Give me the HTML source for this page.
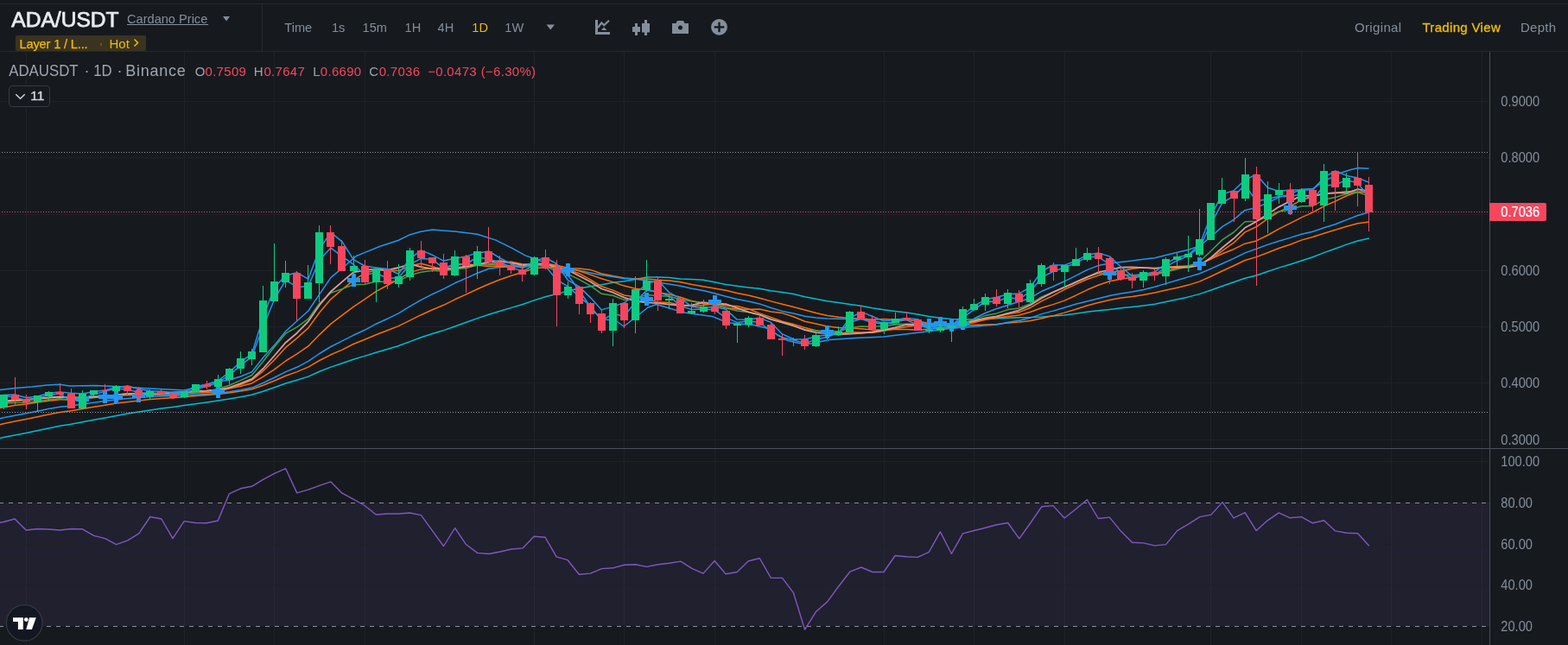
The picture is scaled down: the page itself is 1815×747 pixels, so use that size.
<!DOCTYPE html>
<html><head><meta charset="utf-8"><title>ADA/USDT</title>
<style>
html,body{margin:0;padding:0;background:#161a1e;}
body{width:1815px;height:747px;overflow:hidden;position:relative;}
svg{position:absolute;left:0;top:0;display:block;}
#ch rect,#ch line{shape-rendering:crispEdges}
</style></head>
<body>
<svg id="ch" width="1815" height="747" viewBox="0 0 1815 747">
<line x1="30.5" y1="60" x2="30.5" y2="519" stroke="#1e2227"/>
<line x1="30.5" y1="520" x2="30.5" y2="747" stroke="#1e2227"/>
<line x1="213.5" y1="60" x2="213.5" y2="519" stroke="#1e2227"/>
<line x1="213.5" y1="520" x2="213.5" y2="747" stroke="#1e2227"/>
<line x1="317.5" y1="60" x2="317.5" y2="519" stroke="#1e2227"/>
<line x1="317.5" y1="520" x2="317.5" y2="747" stroke="#1e2227"/>
<line x1="422.5" y1="60" x2="422.5" y2="519" stroke="#1e2227"/>
<line x1="422.5" y1="520" x2="422.5" y2="747" stroke="#1e2227"/>
<line x1="618.5" y1="60" x2="618.5" y2="519" stroke="#1e2227"/>
<line x1="618.5" y1="520" x2="618.5" y2="747" stroke="#1e2227"/>
<line x1="722.5" y1="60" x2="722.5" y2="519" stroke="#1e2227"/>
<line x1="722.5" y1="520" x2="722.5" y2="747" stroke="#1e2227"/>
<line x1="827.5" y1="60" x2="827.5" y2="519" stroke="#1e2227"/>
<line x1="827.5" y1="520" x2="827.5" y2="747" stroke="#1e2227"/>
<line x1="1023.5" y1="60" x2="1023.5" y2="519" stroke="#1e2227"/>
<line x1="1023.5" y1="520" x2="1023.5" y2="747" stroke="#1e2227"/>
<line x1="1127.5" y1="60" x2="1127.5" y2="519" stroke="#1e2227"/>
<line x1="1127.5" y1="520" x2="1127.5" y2="747" stroke="#1e2227"/>
<line x1="1232.5" y1="60" x2="1232.5" y2="519" stroke="#1e2227"/>
<line x1="1232.5" y1="520" x2="1232.5" y2="747" stroke="#1e2227"/>
<line x1="1401.5" y1="60" x2="1401.5" y2="519" stroke="#1e2227"/>
<line x1="1401.5" y1="520" x2="1401.5" y2="747" stroke="#1e2227"/>
<line x1="1506.5" y1="60" x2="1506.5" y2="519" stroke="#1e2227"/>
<line x1="1506.5" y1="520" x2="1506.5" y2="747" stroke="#1e2227"/>
<line x1="1610.5" y1="60" x2="1610.5" y2="519" stroke="#1e2227"/>
<line x1="1610.5" y1="520" x2="1610.5" y2="747" stroke="#1e2227"/>
<line x1="1715.5" y1="60" x2="1715.5" y2="519" stroke="#1e2227"/>
<line x1="1715.5" y1="520" x2="1715.5" y2="747" stroke="#1e2227"/>
<line x1="0" y1="117.5" x2="1724" y2="117.5" stroke="#1e2227"/>
<line x1="0" y1="182.5" x2="1724" y2="182.5" stroke="#1e2227"/>
<line x1="0" y1="248.5" x2="1724" y2="248.5" stroke="#1e2227"/>
<line x1="0" y1="313.5" x2="1724" y2="313.5" stroke="#1e2227"/>
<line x1="0" y1="378.5" x2="1724" y2="378.5" stroke="#1e2227"/>
<line x1="0" y1="443.5" x2="1724" y2="443.5" stroke="#1e2227"/>
<line x1="0" y1="509.5" x2="1724" y2="509.5" stroke="#1e2227"/>
<rect x="0" y="582" width="1724" height="143" fill="#7e57c2" fill-opacity="0.1"/>
<line x1="0" y1="534.5" x2="1724" y2="534.5" stroke="#1e2227"/>
<line x1="0" y1="630.5" x2="1724" y2="630.5" stroke="#1e2227"/>
<line x1="0" y1="677.5" x2="1724" y2="677.5" stroke="#1e2227"/>
<line x1="0" y1="582.5" x2="1724" y2="582.5" stroke="#8a8e99" stroke-dasharray="5 6" stroke-dashoffset="1"/>
<line x1="0" y1="725.5" x2="1724" y2="725.5" stroke="#8a8e99" stroke-dasharray="5 6" stroke-dashoffset="1"/>
<polyline points="-22.1,512.5 -9.0,509.5 4.0,506.6 17.1,503.9 30.2,501.4 43.2,498.7 56.3,495.9 69.4,493.3 82.4,491.3 95.5,488.8 108.6,486.3 121.6,483.9 134.7,481.4 147.8,479.1 160.8,477.1 173.9,475.0 186.9,473.1 200.0,471.4 213.1,469.6 226.1,467.7 239.2,466.0 252.3,464.1 265.3,462.0 278.4,459.7 291.5,457.3 304.5,453.3 317.6,448.7 330.7,444.0 343.7,440.3 356.8,436.1 369.8,430.3 382.9,425.1 396.0,420.7 409.0,416.3 422.1,412.4 435.2,408.2 448.2,404.5 461.3,400.5 474.4,395.6 487.4,390.8 500.5,386.5 513.5,382.6 526.6,378.0 539.7,373.3 552.7,368.6 565.8,364.3 578.9,360.2 591.9,356.4 605.0,352.5 618.1,347.9 631.1,343.8 644.2,340.6 657.2,336.9 670.3,334.0 683.4,331.7 696.4,329.8 709.5,327.3 722.6,325.7 735.6,323.4 748.7,321.1 761.8,321.1 774.8,321.6 787.9,323.0 801.0,323.4 814.0,324.2 827.1,326.8 840.1,329.4 853.2,331.2 866.3,332.9 879.3,334.3 892.4,336.7 905.5,338.5 918.5,340.6 931.6,343.8 944.7,346.3 957.7,348.7 970.8,350.6 983.8,352.4 996.9,354.2 1010.0,356.7 1023.0,358.7 1036.1,360.5 1049.2,362.1 1062.2,364.0 1075.3,366.4 1088.4,368.3 1101.4,369.4 1114.5,370.1 1127.6,370.1 1140.6,369.6 1153.7,368.7 1166.7,368.3 1179.8,367.7 1192.9,367.6 1205.9,367.0 1219.0,366.1 1232.1,365.0 1245.1,363.2 1258.2,361.3 1271.3,359.7 1284.3,358.4 1297.4,356.8 1310.5,355.4 1323.5,353.9 1336.6,352.2 1349.6,349.6 1362.7,346.8 1375.8,343.9 1388.8,340.4 1401.9,336.0 1415.0,331.2 1428.0,326.8 1441.1,322.3 1454.2,319.0 1467.2,314.5 1480.3,310.1 1493.3,306.3 1506.4,302.0 1519.5,297.8 1532.5,292.6 1545.6,288.0 1558.7,283.1 1571.7,279.0 1584.8,275.9" fill="none" stroke="#00bcd4" stroke-width="1.5" stroke-linejoin="round"/>
<polyline points="-22.1,497.1 -9.0,493.9 4.0,490.8 17.1,488.0 30.2,485.5 43.2,482.8 56.3,480.1 69.4,477.6 82.4,475.8 95.5,473.6 108.6,471.3 121.6,469.3 134.7,467.1 147.8,465.4 160.8,464.1 173.9,462.6 186.9,461.5 200.0,460.7 213.1,459.7 226.1,458.6 239.2,457.6 252.3,456.5 265.3,454.9 278.4,453.0 291.5,450.8 304.5,446.3 317.6,441.0 330.7,435.3 343.7,430.6 356.8,425.1 369.8,417.5 382.9,410.8 396.0,405.1 409.0,398.5 422.1,393.3 435.2,387.7 448.2,382.7 461.3,377.6 474.4,371.1 487.4,364.7 500.5,358.8 513.5,353.3 526.6,346.8 539.7,340.9 552.7,334.8 565.8,329.0 578.9,323.8 591.9,319.2 605.0,315.3 618.1,310.9 631.1,309.4 644.2,310.1 657.2,310.7 670.3,311.0 683.4,312.4 696.4,317.0 709.5,319.6 722.6,321.9 735.6,322.9 748.7,322.9 761.8,324.3 774.8,325.0 787.9,326.7 801.0,329.5 814.0,331.8 827.1,334.0 840.1,336.3 853.2,339.5 866.3,341.9 879.3,345.3 892.4,348.9 905.5,352.3 918.5,355.6 931.6,358.9 944.7,362.5 957.7,365.6 970.8,367.3 983.8,368.5 996.9,369.2 1010.0,369.9 1023.0,369.5 1036.1,370.2 1049.2,370.2 1062.2,372.1 1075.3,374.4 1088.4,375.6 1101.4,376.9 1114.5,376.7 1127.6,376.4 1140.6,376.0 1153.7,375.6 1166.7,374.1 1179.8,373.1 1192.9,371.5 1205.9,368.7 1219.0,365.6 1232.1,362.1 1245.1,358.3 1258.2,354.0 1271.3,350.5 1284.3,347.6 1297.4,345.1 1310.5,343.6 1323.5,341.4 1336.6,339.0 1349.6,336.1 1362.7,333.2 1375.8,330.1 1388.8,325.9 1401.9,320.0 1415.0,313.7 1428.0,307.8 1441.1,301.5 1454.2,297.6 1467.2,292.8 1480.3,287.5 1493.3,283.3 1506.4,278.1 1519.5,274.5 1532.5,270.2 1545.6,266.2 1558.7,262.2 1571.7,258.8 1584.8,256.9" fill="none" stroke="#ff6d00" stroke-width="1.5" stroke-linejoin="round"/>
<polyline points="-22.1,490.2 -9.0,487.0 4.0,483.8 17.1,481.2 30.2,478.8 43.2,476.2 56.3,473.6 69.4,471.3 82.4,470.0 95.5,468.1 108.6,466.2 121.6,464.5 134.7,462.7 147.8,461.4 160.8,460.5 173.9,459.5 186.9,458.8 200.0,458.4 213.1,457.8 226.1,456.9 239.2,456.2 252.3,455.2 265.3,453.7 278.4,451.7 291.5,449.1 304.5,443.5 317.6,437.2 330.7,430.6 343.7,425.3 356.8,418.3 369.8,409.5 382.9,401.5 396.0,394.9 409.0,388.3 422.1,382.3 435.2,375.2 448.2,369.3 461.3,362.9 474.4,354.8 487.4,347.4 500.5,340.7 513.5,334.6 526.6,327.8 539.7,322.1 552.7,316.2 565.8,311.3 578.9,309.4 591.9,308.8 605.0,308.9 618.1,306.6 631.1,305.8 644.2,309.2 657.2,311.4 670.3,313.3 683.4,315.9 696.4,318.6 709.5,320.5 722.6,322.5 735.6,323.2 748.7,324.9 761.8,327.2 774.8,329.1 787.9,331.2 801.0,334.2 814.0,336.5 827.1,339.8 840.1,343.3 853.2,346.5 866.3,349.1 879.3,351.9 892.4,356.5 905.5,360.4 918.5,362.9 931.6,366.2 944.7,368.0 957.7,369.1 970.8,369.2 983.8,369.6 996.9,369.6 1010.0,371.8 1023.0,374.1 1036.1,375.1 1049.2,376.3 1062.2,377.2 1075.3,378.2 1088.4,379.4 1101.4,380.2 1114.5,379.3 1127.6,378.2 1140.6,377.1 1153.7,375.9 1166.7,373.3 1179.8,371.2 1192.9,368.1 1205.9,363.6 1219.0,360.1 1232.1,356.3 1245.1,352.3 1258.2,349.0 1271.3,345.7 1284.3,342.5 1297.4,340.1 1310.5,338.0 1323.5,335.4 1336.6,332.3 1349.6,328.4 1362.7,324.5 1375.8,320.6 1388.8,316.7 1401.9,311.1 1415.0,305.2 1428.0,299.4 1441.1,292.9 1454.2,288.3 1467.2,283.4 1480.3,279.2 1493.3,275.4 1506.4,271.2 1519.5,268.3 1532.5,263.8 1545.6,259.8 1558.7,254.6 1571.7,249.5 1584.8,245.8" fill="none" stroke="#2196f3" stroke-width="1.5" stroke-linejoin="round"/>
<polyline points="-10.0,452.5 0.0,451.6 17.6,449.5 36.4,448.0 54.5,445.9 69.1,445.3 80.6,447.1 110.0,446.5 139.7,447.7 165.0,449.5 189.9,450.8 213.0,452.0 232.3,447.7 245.0,443.5 265.5,440.0 278.6,436.0 291.6,430.6 304.7,414.0 317.8,399.6 330.8,383.5 343.8,371.7 356.9,360.0 369.9,340.7 383.0,321.4 396.1,310.7 412.4,296.5 423.7,291.9 440.0,285.3 460.8,278.5 473.2,272.3 486.0,268.5 500.4,266.1 526.2,268.1 552.5,271.2 574.0,278.1 592.6,287.4 608.0,295.9 623.4,301.3 635.8,305.9 646.6,307.5 660.0,322.0 673.0,340.0 687.0,361.0 700.0,370.0 713.0,371.5 722.0,378.0 735.0,368.0 750.0,356.0 760.0,352.5 792.1,362.1 824.3,366.4 835.0,370.7 845.7,373.9 856.4,375.0 872.5,376.6 888.5,380.3 900.0,388.0 912.0,394.5 925.0,397.4 939.0,398.0 960.0,393.6 990.0,391.5 1022.7,390.0 1064.4,384.9 1100.0,380.5 1116.6,377.9 1127.5,369.0 1140.5,362.5 1153.6,357.5 1166.6,353.5 1179.8,349.3 1192.9,345.2 1205.9,337.2 1219.0,331.8 1232.1,325.8 1245.1,319.3 1258.2,312.6 1271.3,307.6 1284.3,304.9 1297.4,303.5 1310.5,302.1 1323.5,300.2 1336.6,298.8 1349.6,295.5 1362.7,292.2 1375.8,289.3 1388.8,284.6 1401.9,274.0 1415.0,262.4 1428.0,254.5 1441.1,243.4 1454.2,240.5 1467.2,234.9 1480.3,228.6 1493.3,224.6 1506.4,219.3 1519.5,218.6 1528.3,212.7 1538.6,206.8 1551.9,200.2 1563.6,196.5 1572.5,194.6 1584.5,195.3" fill="none" stroke="#2196f3" stroke-width="1.5" stroke-linejoin="round"/>
<polyline points="-22.1,477.5 -9.0,474.5 4.0,471.7 17.1,469.6 30.2,468.0 43.2,466.1 56.3,464.2 69.4,462.7 82.4,462.7 95.5,461.6 108.6,460.4 121.6,459.5 134.7,458.3 147.8,457.7 160.8,457.6 173.9,457.2 186.9,457.1 200.0,456.9 213.1,456.0 226.1,455.1 239.2,454.6 252.3,453.3 265.3,450.1 278.4,447.2 291.5,443.9 304.5,436.4 317.6,427.8 330.7,418.0 343.7,409.9 356.8,400.9 369.8,387.6 382.9,375.1 396.0,365.1 409.0,355.4 422.1,346.7 435.2,337.6 448.2,330.5 461.3,323.7 474.4,315.4 487.4,311.9 500.5,310.4 513.5,310.6 526.6,307.1 539.7,305.7 552.7,307.3 565.8,308.6 578.9,308.2 591.9,308.5 605.0,307.8 618.1,306.9 631.1,305.6 644.2,307.2 657.2,310.2 670.3,313.9 683.4,318.1 696.4,322.7 709.5,326.6 722.6,331.1 735.6,334.2 748.7,335.7 761.8,338.6 774.8,340.9 787.9,344.2 801.0,348.6 814.0,351.8 827.1,353.1 840.1,356.3 853.2,358.0 866.3,358.3 879.3,357.9 892.4,360.9 905.5,362.6 918.5,366.8 931.6,372.2 944.7,375.1 957.7,378.1 970.8,379.6 983.8,379.7 996.9,380.7 1010.0,382.1 1023.0,381.9 1036.1,381.4 1049.2,381.6 1062.2,382.1 1075.3,381.2 1088.4,380.2 1101.4,379.0 1114.5,375.9 1127.6,373.4 1140.6,370.3 1153.7,368.0 1166.7,366.4 1179.8,365.0 1192.9,361.2 1205.9,356.5 1219.0,352.6 1232.1,348.1 1245.1,342.2 1258.2,335.8 1271.3,330.2 1284.3,325.7 1297.4,323.2 1310.5,321.2 1323.5,319.1 1336.6,316.7 1349.6,313.9 1362.7,310.2 1375.8,307.7 1388.8,305.6 1401.9,299.9 1415.0,293.7 1428.0,288.7 1441.1,282.2 1454.2,278.9 1467.2,272.5 1480.3,265.2 1493.3,258.7 1506.4,251.9 1519.5,246.1 1532.5,238.8 1545.6,233.1 1558.7,226.8 1571.7,222.3 1584.8,223.1" fill="none" stroke="#ff6d00" stroke-width="1.5" stroke-linejoin="round"/>
<polyline points="-22.1,470.7 -9.0,468.2 4.0,465.8 17.1,464.4 30.2,463.6 43.2,462.3 56.3,460.8 69.4,459.9 82.4,460.9 95.5,460.2 108.6,459.4 121.6,458.8 134.7,457.9 147.8,456.9 160.8,456.1 173.9,455.7 186.9,455.8 200.0,456.1 213.1,454.2 226.1,453.1 239.2,452.7 252.3,451.3 265.3,449.3 278.4,445.5 291.5,440.4 304.5,429.8 317.6,416.8 330.7,402.4 343.7,391.6 356.8,379.9 369.8,362.0 382.9,346.6 396.0,335.3 409.0,324.6 422.1,316.6 435.2,312.8 448.2,313.2 461.3,313.6 474.4,308.0 487.4,305.2 500.5,308.8 513.5,312.1 526.6,310.4 539.7,310.4 552.7,306.8 565.8,306.1 578.9,304.0 591.9,303.2 605.0,306.0 618.1,305.9 631.1,306.5 644.2,308.8 657.2,312.3 670.3,316.7 683.4,323.9 696.4,331.8 709.5,336.1 722.6,342.0 735.6,343.7 748.7,346.4 761.8,350.1 774.8,350.5 787.9,353.6 801.0,354.4 814.0,353.6 827.1,351.4 840.1,354.0 853.2,354.4 866.3,357.7 879.3,362.9 892.4,367.4 905.5,372.2 918.5,375.4 931.6,379.5 944.7,382.8 957.7,385.4 970.8,386.2 983.8,384.7 996.9,384.9 1010.0,385.3 1023.0,383.3 1036.1,380.8 1049.2,378.5 1062.2,376.7 1075.3,376.0 1088.4,375.2 1101.4,374.5 1114.5,374.2 1127.6,372.5 1140.6,368.8 1153.7,366.7 1166.7,363.7 1179.8,361.6 1192.9,356.2 1205.9,348.7 1219.0,342.3 1232.1,335.3 1245.1,329.4 1258.2,323.5 1271.3,319.1 1284.3,315.3 1297.4,313.7 1310.5,311.2 1323.5,309.8 1336.6,311.0 1349.6,309.5 1362.7,308.5 1375.8,307.9 1388.8,306.4 1401.9,299.9 1415.0,290.4 1428.0,281.2 1441.1,268.9 1454.2,262.8 1467.2,253.4 1480.3,245.4 1493.3,239.1 1506.4,231.7 1519.5,227.7 1532.5,224.0 1545.6,223.7 1558.7,221.4 1571.7,222.6 1584.8,221.8" fill="none" stroke="#ff6d00" stroke-width="1.5" stroke-linejoin="round"/>
<polyline points="-22.1,471.9 -9.0,469.5 4.0,467.2 17.1,466.4 30.2,466.3 43.2,464.8 56.3,462.8 69.4,461.7 82.4,463.8 95.5,462.4 108.6,460.5 121.6,459.1 134.7,456.9 147.8,456.2 160.8,456.6 173.9,456.0 186.9,456.0 200.0,456.7 213.1,456.1 226.1,454.1 239.2,452.9 252.3,450.4 265.3,446.2 278.4,440.6 291.5,434.5 304.5,418.7 317.6,401.8 330.7,386.2 343.7,378.8 356.8,369.4 369.8,351.2 382.9,339.3 396.0,334.6 409.0,329.8 422.1,329.2 435.2,325.9 448.2,326.4 461.3,325.3 474.4,318.8 487.4,315.2 500.5,313.3 513.5,314.3 526.6,311.2 539.7,310.5 552.7,307.0 565.8,306.4 578.9,306.7 591.9,307.8 605.0,309.6 618.1,307.5 631.1,308.0 644.2,314.1 657.2,317.4 670.3,323.6 683.4,330.9 696.4,340.3 709.5,342.2 722.6,347.4 735.6,345.2 748.7,341.5 761.8,342.6 774.8,343.2 787.9,346.8 801.0,349.1 814.0,350.2 827.1,352.2 840.1,356.7 853.2,360.0 866.3,361.5 879.3,364.3 892.4,369.5 905.5,373.9 918.5,377.6 931.6,381.8 944.7,383.0 957.7,383.8 970.8,383.8 983.8,379.7 996.9,377.9 1010.0,378.4 1023.0,377.4 1036.1,375.9 1049.2,375.0 1062.2,376.4 1075.3,377.3 1088.4,377.6 1101.4,377.6 1114.5,374.1 1127.6,370.1 1140.6,365.4 1153.7,362.9 1166.7,358.6 1179.8,357.0 1192.9,351.8 1205.9,343.6 1219.0,338.4 1232.1,332.7 1245.1,326.7 1258.2,320.6 1271.3,316.8 1284.3,316.4 1297.4,317.5 1310.5,318.8 1323.5,318.1 1336.6,318.3 1349.6,314.9 1362.7,311.7 1375.8,308.5 1388.8,302.8 1401.9,290.5 1415.0,277.6 1428.0,269.0 1441.1,256.8 1454.2,256.3 1467.2,250.6 1480.3,245.0 1493.3,243.0 1506.4,238.8 1519.5,238.7 1532.5,231.3 1545.6,228.6 1558.7,224.5 1571.7,222.7 1584.8,226.9" fill="none" stroke="#43a047" stroke-width="1.5" stroke-linejoin="round"/>
<polyline points="-22.1,469.2 -9.0,466.8 4.0,464.5 17.1,463.3 30.2,462.7 43.2,461.6 56.3,460.3 69.4,459.5 82.4,460.7 95.5,460.2 108.6,459.5 121.6,459.1 134.7,457.3 147.8,455.9 160.8,455.9 173.9,455.8 186.9,455.7 200.0,454.3 213.1,454.0 226.1,453.2 239.2,452.6 252.3,451.7 265.3,448.9 278.4,444.1 291.5,438.9 304.5,427.0 317.6,412.0 330.7,396.7 343.7,385.7 356.8,372.3 369.8,353.4 382.9,337.7 396.0,326.4 409.0,315.4 422.1,313.1 435.2,311.4 448.2,312.9 461.3,310.0 474.4,305.9 487.4,309.2 500.5,311.3 513.5,311.9 526.6,310.7 539.7,308.5 552.7,306.3 565.8,303.5 578.9,302.2 591.9,304.7 605.0,306.8 618.1,306.1 631.1,305.1 644.2,310.1 657.2,312.8 670.3,319.5 683.4,326.2 696.4,334.5 709.5,338.7 722.6,344.6 735.6,348.8 748.7,350.4 761.8,351.1 774.8,352.6 787.9,353.8 801.0,353.4 814.0,350.3 827.1,351.4 840.1,352.1 853.2,356.6 866.3,361.3 879.3,364.6 892.4,369.8 905.5,373.3 918.5,377.1 931.6,382.2 944.7,385.2 957.7,386.4 970.8,387.4 983.8,386.6 996.9,385.8 1010.0,384.5 1023.0,382.1 1036.1,379.4 1049.2,376.0 1062.2,375.4 1075.3,374.8 1088.4,374.2 1101.4,376.0 1114.5,374.7 1127.6,371.6 1140.6,368.3 1153.7,366.4 1166.7,362.9 1179.8,359.3 1192.9,353.3 1205.9,345.3 1219.0,338.4 1232.1,332.7 1245.1,326.9 1258.2,321.2 1271.3,315.4 1284.3,312.7 1297.4,309.7 1310.5,309.3 1323.5,310.2 1336.6,310.6 1349.6,309.8 1362.7,309.5 1375.8,309.6 1388.8,307.1 1401.9,298.3 1415.0,286.8 1428.0,276.3 1441.1,263.8 1454.2,256.6 1467.2,248.2 1480.3,239.6 1493.3,233.0 1506.4,226.6 1519.5,226.9 1532.5,224.5 1545.6,223.1 1558.7,223.5 1571.7,219.1 1584.8,221.5" fill="none" stroke="#d99a9e" stroke-width="1.8" stroke-linejoin="round"/>
<polyline points="-22.1,460.9 -9.0,459.3 4.0,457.5 17.1,457.0 30.2,460.4 43.2,459.3 56.3,455.3 69.4,454.0 82.4,455.3 95.5,455.9 108.6,453.4 121.6,452.1 134.7,448.8 147.8,447.1 160.8,450.5 173.9,452.8 186.9,453.2 200.0,454.5 213.1,453.9 226.1,447.8 239.2,445.1 252.3,441.2 265.3,431.2 278.4,419.1 291.5,409.8 304.5,367.6 317.6,333.1 330.7,319.0 343.7,315.7 356.8,323.2 369.8,288.4 382.9,269.1 396.0,279.8 409.0,300.4 422.1,308.0 435.2,309.9 448.2,311.5 461.3,317.3 474.4,299.9 487.4,289.9 500.5,295.3 513.5,302.1 526.6,299.3 539.7,296.9 552.7,292.9 565.8,290.9 578.9,299.0 591.9,305.7 605.0,310.5 618.1,302.7 631.1,298.1 644.2,305.5 657.2,324.3 670.3,331.9 683.4,344.6 696.4,358.9 709.5,354.9 722.6,350.8 735.6,340.3 748.7,328.3 761.8,325.0 774.8,338.9 787.9,345.9 801.0,355.2 814.0,356.7 827.1,355.1 840.1,358.3 853.2,370.1 866.3,370.3 879.3,368.1 892.4,373.4 905.5,386.9 918.5,392.8 931.6,393.0 944.7,389.7 957.7,387.8 970.8,385.2 983.8,368.7 996.9,361.1 1010.0,366.5 1023.0,371.8 1036.1,370.5 1049.2,368.5 1062.2,369.7 1075.3,377.9 1088.4,379.9 1101.4,377.8 1114.5,364.6 1127.6,354.3 1140.6,346.8 1153.7,344.3 1166.7,340.8 1179.8,339.9 1192.9,332.3 1205.9,314.0 1219.0,307.0 1232.1,307.1 1245.1,302.2 1258.2,295.3 1271.3,293.0 1284.3,296.9 1297.4,309.0 1310.5,319.6 1323.5,317.4 1336.6,315.1 1349.6,305.1 1362.7,298.1 1375.8,295.0 1388.8,282.9 1401.9,249.1 1415.0,224.9 1428.0,220.7 1441.1,208.4 1454.2,202.0 1467.2,217.2 1480.3,221.5 1493.3,219.9 1506.4,220.1 1519.5,220.1 1532.5,205.4 1545.6,198.0 1558.7,203.4 1571.7,206.1 1584.8,211.3" fill="none" stroke="#2196f3" stroke-width="1.5" stroke-linejoin="round"/>
<polyline points="-22.1,461.4 -9.0,459.8 4.0,458.1 17.1,460.3 30.2,463.4 43.2,461.4 56.3,457.3 69.4,456.1 82.4,464.5 95.5,461.8 108.6,456.9 121.6,453.1 134.7,449.9 147.8,450.9 160.8,454.8 173.9,454.9 186.9,455.4 200.0,457.4 213.1,455.9 226.1,450.3 239.2,447.8 252.3,443.0 265.3,434.6 278.4,423.2 291.5,413.1 304.5,378.8 317.6,346.7 330.7,324.4 343.7,332.4 356.8,331.4 369.8,301.2 382.9,287.1 396.0,296.9 409.0,306.2 422.1,318.4 435.2,315.7 448.2,322.5 461.3,321.4 474.4,306.4 487.4,299.4 500.5,300.3 513.5,310.8 526.6,305.5 539.7,306.0 552.7,297.5 565.8,300.2 578.9,303.7 591.9,309.6 605.0,314.4 618.1,307.0 631.1,307.6 644.2,324.0 657.2,331.6 670.3,343.4 683.4,354.4 696.4,371.2 709.5,363.6 722.6,366.2 735.6,349.6 748.7,336.0 761.8,338.1 774.8,343.0 787.9,354.6 801.0,358.5 814.0,358.0 827.1,358.8 840.1,367.9 853.2,373.4 866.3,371.8 879.3,373.6 892.4,383.4 905.5,390.8 918.5,393.9 931.6,397.5 944.7,393.4 957.7,390.0 970.8,385.9 983.8,373.2 996.9,369.3 1010.0,373.8 1023.0,375.1 1036.1,372.4 1049.2,370.6 1062.2,376.4 1075.3,380.2 1088.4,380.5 1101.4,378.6 1114.5,368.1 1127.6,358.4 1140.6,349.2 1153.7,349.4 1166.7,344.2 1179.8,346.5 1192.9,337.2 1205.9,321.2 1219.0,314.5 1232.1,309.7 1245.1,304.8 1258.2,297.6 1271.3,297.5 1284.3,306.2 1297.4,316.2 1310.5,322.3 1323.5,319.4 1336.6,318.5 1349.6,308.8 1362.7,301.7 1375.8,296.0 1388.8,286.2 1401.9,258.9 1415.0,234.5 1428.0,227.4 1441.1,214.3 1454.2,232.7 1467.2,230.7 1480.3,227.2 1493.3,227.7 1506.4,224.7 1519.5,231.4 1532.5,215.0 1545.6,214.1 1558.7,208.3 1571.7,212.1 1584.8,228.8" fill="none" stroke="#2196f3" stroke-width="1.5" stroke-linejoin="round"/>
<rect x="88.0" y="459.5" width="15" height="5" fill="#2196f3"/>
<rect x="93.0" y="454.5" width="5" height="15" fill="#2196f3"/>
<rect x="114.0" y="457.0" width="15" height="5" fill="#2196f3"/>
<rect x="119.0" y="452.0" width="5" height="15" fill="#2196f3"/>
<rect x="127.0" y="456.5" width="15" height="5" fill="#2196f3"/>
<rect x="132.0" y="451.5" width="5" height="15" fill="#2196f3"/>
<rect x="153.0" y="455.5" width="15" height="5" fill="#2196f3"/>
<rect x="158.0" y="450.5" width="5" height="15" fill="#2196f3"/>
<rect x="245.0" y="450.5" width="15" height="5" fill="#2196f3"/>
<rect x="250.0" y="445.5" width="5" height="15" fill="#2196f3"/>
<rect x="402.0" y="322.0" width="15" height="5" fill="#2196f3"/>
<rect x="407.0" y="317.0" width="5" height="15" fill="#2196f3"/>
<rect x="650.0" y="310.0" width="15" height="5" fill="#2196f3"/>
<rect x="655.0" y="305.0" width="5" height="15" fill="#2196f3"/>
<rect x="741.0" y="344.0" width="15" height="5" fill="#2196f3"/>
<rect x="746.0" y="339.0" width="5" height="15" fill="#2196f3"/>
<rect x="820.0" y="346.8" width="15" height="5" fill="#2196f3"/>
<rect x="825.0" y="341.8" width="5" height="15" fill="#2196f3"/>
<rect x="950.0" y="382.3" width="15" height="5" fill="#2196f3"/>
<rect x="955.0" y="377.3" width="5" height="15" fill="#2196f3"/>
<rect x="1068.0" y="374.0" width="15" height="5" fill="#2196f3"/>
<rect x="1073.0" y="369.0" width="5" height="15" fill="#2196f3"/>
<rect x="1081.0" y="372.0" width="15" height="5" fill="#2196f3"/>
<rect x="1086.0" y="367.0" width="5" height="15" fill="#2196f3"/>
<rect x="1094.0" y="373.5" width="15" height="5" fill="#2196f3"/>
<rect x="1099.0" y="368.5" width="5" height="15" fill="#2196f3"/>
<rect x="1107.0" y="372.0" width="15" height="5" fill="#2196f3"/>
<rect x="1112.0" y="367.0" width="5" height="15" fill="#2196f3"/>
<rect x="1277.0" y="313.5" width="15" height="5" fill="#2196f3"/>
<rect x="1282.0" y="308.5" width="5" height="15" fill="#2196f3"/>
<rect x="1381.0" y="303.0" width="15" height="5" fill="#2196f3"/>
<rect x="1386.0" y="298.0" width="5" height="15" fill="#2196f3"/>
<rect x="1486.0" y="237.5" width="15" height="5" fill="#2196f3"/>
<rect x="1491.0" y="232.5" width="5" height="15" fill="#2196f3"/>
<rect x="4" y="456.9" width="1" height="16.9" fill="#0ecb81"/>
<rect x="0" y="456.9" width="9" height="15.0" fill="#0ecb81"/>
<rect x="17" y="437.0" width="1" height="32.8" fill="#f6465d"/>
<rect x="13" y="457.1" width="9" height="5.9" fill="#f6465d"/>
<rect x="30" y="457.1" width="1" height="16.7" fill="#f6465d"/>
<rect x="26" y="462.1" width="9" height="3.7" fill="#f6465d"/>
<rect x="43" y="457.9" width="1" height="19.4" fill="#0ecb81"/>
<rect x="39" y="457.9" width="9" height="7.9" fill="#0ecb81"/>
<rect x="56" y="453.1" width="1" height="10.6" fill="#0ecb81"/>
<rect x="52" y="454.0" width="9" height="4.7" fill="#0ecb81"/>
<rect x="69" y="444.0" width="1" height="13.6" fill="#f6465d"/>
<rect x="65" y="454.0" width="9" height="2.9" fill="#f6465d"/>
<rect x="82" y="450.1" width="1" height="22.9" fill="#f6465d"/>
<rect x="78" y="455.9" width="9" height="17.1" fill="#f6465d"/>
<rect x="95" y="452.1" width="1" height="20.9" fill="#0ecb81"/>
<rect x="91" y="455.9" width="9" height="17.1" fill="#0ecb81"/>
<rect x="108" y="452.1" width="1" height="6.6" fill="#0ecb81"/>
<rect x="104" y="452.1" width="9" height="4.8" fill="#0ecb81"/>
<rect x="121" y="445.0" width="1" height="8.7" fill="#f6465d"/>
<rect x="117" y="452.1" width="9" height="1.0" fill="#f6465d"/>
<rect x="134" y="446.1" width="1" height="6.7" fill="#0ecb81"/>
<rect x="130" y="447.2" width="9" height="5.6" fill="#0ecb81"/>
<rect x="147" y="446.1" width="1" height="11.9" fill="#f6465d"/>
<rect x="143" y="447.1" width="9" height="5.7" fill="#f6465d"/>
<rect x="160" y="448.0" width="1" height="13.9" fill="#f6465d"/>
<rect x="156" y="452.2" width="9" height="6.5" fill="#f6465d"/>
<rect x="173" y="451.1" width="1" height="11.9" fill="#0ecb81"/>
<rect x="169" y="453.1" width="9" height="5.7" fill="#0ecb81"/>
<rect x="186" y="450.0" width="1" height="8.0" fill="#f6465d"/>
<rect x="182" y="453.2" width="9" height="2.6" fill="#f6465d"/>
<rect x="200" y="455.1" width="1" height="6.8" fill="#f6465d"/>
<rect x="196" y="455.1" width="9" height="4.9" fill="#f6465d"/>
<rect x="213" y="453.3" width="1" height="7.5" fill="#0ecb81"/>
<rect x="209" y="453.3" width="9" height="6.7" fill="#0ecb81"/>
<rect x="226" y="445.0" width="1" height="9.7" fill="#0ecb81"/>
<rect x="222" y="445.0" width="9" height="8.7" fill="#0ecb81"/>
<rect x="239" y="440.9" width="1" height="9.9" fill="#f6465d"/>
<rect x="235" y="445.2" width="9" height="2.6" fill="#f6465d"/>
<rect x="252" y="434.2" width="1" height="14.4" fill="#0ecb81"/>
<rect x="248" y="439.2" width="9" height="8.9" fill="#0ecb81"/>
<rect x="265" y="426.1" width="1" height="18.5" fill="#0ecb81"/>
<rect x="261" y="427.2" width="9" height="12.6" fill="#0ecb81"/>
<rect x="278" y="407.1" width="1" height="25.9" fill="#0ecb81"/>
<rect x="274" y="415.1" width="9" height="11.7" fill="#0ecb81"/>
<rect x="291" y="404.0" width="1" height="18.9" fill="#0ecb81"/>
<rect x="287" y="407.1" width="9" height="8.8" fill="#0ecb81"/>
<rect x="304" y="330.8" width="1" height="77.2" fill="#0ecb81"/>
<rect x="300" y="347.9" width="9" height="60.1" fill="#0ecb81"/>
<rect x="317" y="282.0" width="1" height="67.0" fill="#0ecb81"/>
<rect x="313" y="325.7" width="9" height="23.3" fill="#0ecb81"/>
<rect x="330" y="301.9" width="1" height="31.0" fill="#0ecb81"/>
<rect x="326" y="315.7" width="9" height="11.3" fill="#0ecb81"/>
<rect x="343" y="314.1" width="1" height="56.6" fill="#f6465d"/>
<rect x="339" y="315.7" width="9" height="30.1" fill="#f6465d"/>
<rect x="356" y="307.2" width="1" height="38.6" fill="#0ecb81"/>
<rect x="352" y="327.0" width="9" height="18.8" fill="#0ecb81"/>
<rect x="369" y="261.1" width="1" height="88.7" fill="#0ecb81"/>
<rect x="365" y="269.1" width="9" height="58.5" fill="#0ecb81"/>
<rect x="382" y="261.1" width="1" height="45.0" fill="#f6465d"/>
<rect x="378" y="269.1" width="9" height="16.7" fill="#f6465d"/>
<rect x="395" y="278.3" width="1" height="35.3" fill="#f6465d"/>
<rect x="391" y="285.2" width="9" height="28.4" fill="#f6465d"/>
<rect x="409" y="295.9" width="1" height="25.5" fill="#0ecb81"/>
<rect x="405" y="308.0" width="9" height="6.0" fill="#0ecb81"/>
<rect x="422" y="301.0" width="1" height="26.5" fill="#f6465d"/>
<rect x="418" y="308.0" width="9" height="18.9" fill="#f6465d"/>
<rect x="435" y="310.8" width="1" height="39.0" fill="#0ecb81"/>
<rect x="431" y="310.8" width="9" height="16.1" fill="#0ecb81"/>
<rect x="448" y="301.9" width="1" height="33.0" fill="#f6465d"/>
<rect x="444" y="311.8" width="9" height="17.1" fill="#f6465d"/>
<rect x="461" y="306.0" width="1" height="26.9" fill="#0ecb81"/>
<rect x="457" y="320.0" width="9" height="8.9" fill="#0ecb81"/>
<rect x="474" y="287.1" width="1" height="38.0" fill="#0ecb81"/>
<rect x="470" y="289.9" width="9" height="30.9" fill="#0ecb81"/>
<rect x="487" y="279.0" width="1" height="29.2" fill="#f6465d"/>
<rect x="483" y="289.9" width="9" height="8.9" fill="#f6465d"/>
<rect x="500" y="298.0" width="1" height="16.8" fill="#f6465d"/>
<rect x="496" y="298.0" width="9" height="6.8" fill="#f6465d"/>
<rect x="513" y="293.8" width="1" height="29.3" fill="#f6465d"/>
<rect x="509" y="304.2" width="9" height="14.7" fill="#f6465d"/>
<rect x="526" y="289.9" width="1" height="29.9" fill="#0ecb81"/>
<rect x="522" y="296.9" width="9" height="22.0" fill="#0ecb81"/>
<rect x="539" y="295.0" width="1" height="43.7" fill="#f6465d"/>
<rect x="535" y="296.9" width="9" height="10.9" fill="#f6465d"/>
<rect x="552" y="284.9" width="1" height="38.2" fill="#0ecb81"/>
<rect x="548" y="290.9" width="9" height="16.9" fill="#0ecb81"/>
<rect x="565" y="263.2" width="1" height="42.4" fill="#f6465d"/>
<rect x="561" y="290.9" width="9" height="12.9" fill="#f6465d"/>
<rect x="578" y="296.0" width="1" height="22.9" fill="#f6465d"/>
<rect x="574" y="303.0" width="9" height="4.8" fill="#f6465d"/>
<rect x="591" y="303.8" width="1" height="13.2" fill="#f6465d"/>
<rect x="587" y="307.0" width="9" height="5.8" fill="#f6465d"/>
<rect x="604" y="306.2" width="1" height="19.9" fill="#f6465d"/>
<rect x="600" y="312.2" width="9" height="5.5" fill="#f6465d"/>
<rect x="618" y="297.1" width="1" height="21.7" fill="#0ecb81"/>
<rect x="614" y="297.9" width="9" height="19.9" fill="#0ecb81"/>
<rect x="631" y="289.0" width="1" height="22.5" fill="#f6465d"/>
<rect x="627" y="298.2" width="9" height="12.5" fill="#f6465d"/>
<rect x="644" y="301.1" width="1" height="76.8" fill="#f6465d"/>
<rect x="640" y="309.1" width="9" height="32.4" fill="#f6465d"/>
<rect x="657" y="326.4" width="1" height="19.3" fill="#0ecb81"/>
<rect x="653" y="331.9" width="9" height="9.6" fill="#0ecb81"/>
<rect x="670" y="331.3" width="1" height="32.4" fill="#f6465d"/>
<rect x="666" y="331.9" width="9" height="19.8" fill="#f6465d"/>
<rect x="683" y="350.0" width="1" height="23.7" fill="#f6465d"/>
<rect x="679" y="350.9" width="9" height="12.8" fill="#f6465d"/>
<rect x="696" y="358.1" width="1" height="27.8" fill="#f6465d"/>
<rect x="692" y="362.9" width="9" height="19.8" fill="#f6465d"/>
<rect x="709" y="346.0" width="1" height="54.7" fill="#0ecb81"/>
<rect x="705" y="350.9" width="9" height="31.8" fill="#0ecb81"/>
<rect x="722" y="350.1" width="1" height="29.9" fill="#f6465d"/>
<rect x="718" y="350.8" width="9" height="20.0" fill="#f6465d"/>
<rect x="735" y="319.7" width="1" height="66.4" fill="#0ecb81"/>
<rect x="731" y="335.0" width="9" height="35.6" fill="#0ecb81"/>
<rect x="748" y="300.9" width="1" height="37.0" fill="#0ecb81"/>
<rect x="744" y="325.0" width="9" height="10.8" fill="#0ecb81"/>
<rect x="761" y="319.7" width="1" height="40.2" fill="#f6465d"/>
<rect x="757" y="325.0" width="9" height="22.8" fill="#f6465d"/>
<rect x="774" y="343.0" width="1" height="14.8" fill="#0ecb81"/>
<rect x="770" y="345.9" width="9" height="1.9" fill="#0ecb81"/>
<rect x="787" y="345.4" width="1" height="17.2" fill="#f6465d"/>
<rect x="783" y="345.9" width="9" height="16.7" fill="#f6465d"/>
<rect x="800" y="351.0" width="1" height="12.6" fill="#0ecb81"/>
<rect x="796" y="359.9" width="9" height="3.2" fill="#0ecb81"/>
<rect x="814" y="346.5" width="1" height="15.0" fill="#0ecb81"/>
<rect x="810" y="355.1" width="9" height="5.6" fill="#0ecb81"/>
<rect x="827" y="352.1" width="1" height="11.8" fill="#f6465d"/>
<rect x="823" y="355.1" width="9" height="5.7" fill="#f6465d"/>
<rect x="840" y="359.9" width="1" height="21.0" fill="#f6465d"/>
<rect x="836" y="359.9" width="9" height="17.0" fill="#f6465d"/>
<rect x="853" y="375.2" width="1" height="21.8" fill="#0ecb81"/>
<rect x="849" y="375.2" width="9" height="1.7" fill="#0ecb81"/>
<rect x="866" y="366.2" width="1" height="12.7" fill="#0ecb81"/>
<rect x="862" y="367.9" width="9" height="7.7" fill="#0ecb81"/>
<rect x="879" y="364.9" width="1" height="12.0" fill="#f6465d"/>
<rect x="875" y="368.2" width="9" height="8.7" fill="#f6465d"/>
<rect x="892" y="374.2" width="1" height="18.8" fill="#f6465d"/>
<rect x="888" y="376.0" width="9" height="17.0" fill="#f6465d"/>
<rect x="905" y="387.2" width="1" height="24.9" fill="#f6465d"/>
<rect x="901" y="392.3" width="9" height="1.6" fill="#f6465d"/>
<rect x="918" y="391.0" width="1" height="10.0" fill="#f6465d"/>
<rect x="914" y="393.0" width="9" height="1.1" fill="#f6465d"/>
<rect x="931" y="388.1" width="1" height="16.9" fill="#f6465d"/>
<rect x="927" y="393.0" width="9" height="7.9" fill="#f6465d"/>
<rect x="944" y="384.2" width="1" height="17.5" fill="#0ecb81"/>
<rect x="940" y="388.1" width="9" height="12.7" fill="#0ecb81"/>
<rect x="957" y="378.2" width="1" height="15.1" fill="#0ecb81"/>
<rect x="953" y="387.6" width="9" height="1.4" fill="#0ecb81"/>
<rect x="970" y="378.2" width="1" height="10.8" fill="#0ecb81"/>
<rect x="966" y="384.0" width="9" height="3.6" fill="#0ecb81"/>
<rect x="983" y="360.1" width="1" height="28.3" fill="#0ecb81"/>
<rect x="979" y="361.1" width="9" height="23.7" fill="#0ecb81"/>
<rect x="996" y="354.1" width="1" height="15.7" fill="#f6465d"/>
<rect x="992" y="361.1" width="9" height="8.7" fill="#f6465d"/>
<rect x="1009" y="364.9" width="1" height="17.9" fill="#f6465d"/>
<rect x="1005" y="369.2" width="9" height="11.4" fill="#f6465d"/>
<rect x="1023" y="373.1" width="1" height="13.5" fill="#0ecb81"/>
<rect x="1019" y="373.1" width="9" height="7.5" fill="#0ecb81"/>
<rect x="1036" y="361.9" width="1" height="12.1" fill="#0ecb81"/>
<rect x="1032" y="369.2" width="9" height="4.8" fill="#0ecb81"/>
<rect x="1049" y="361.2" width="1" height="9.4" fill="#f6465d"/>
<rect x="1045" y="368.2" width="9" height="2.4" fill="#f6465d"/>
<rect x="1062" y="370.4" width="1" height="12.3" fill="#f6465d"/>
<rect x="1058" y="370.4" width="9" height="12.3" fill="#f6465d"/>
<rect x="1075" y="374.2" width="1" height="11.5" fill="#0ecb81"/>
<rect x="1071" y="381.7" width="9" height="1.2" fill="#0ecb81"/>
<rect x="1088" y="374.8" width="1" height="9.7" fill="#0ecb81"/>
<rect x="1084" y="379.0" width="9" height="3.7" fill="#0ecb81"/>
<rect x="1101" y="376.6" width="1" height="19.3" fill="#0ecb81"/>
<rect x="1097" y="377.2" width="9" height="2.4" fill="#0ecb81"/>
<rect x="1114" y="354.9" width="1" height="22.9" fill="#0ecb81"/>
<rect x="1110" y="358.3" width="9" height="19.5" fill="#0ecb81"/>
<rect x="1127" y="345.9" width="1" height="13.9" fill="#0ecb81"/>
<rect x="1123" y="352.3" width="9" height="6.3" fill="#0ecb81"/>
<rect x="1140" y="339.9" width="1" height="19.7" fill="#0ecb81"/>
<rect x="1136" y="344.1" width="9" height="8.4" fill="#0ecb81"/>
<rect x="1153" y="335.3" width="1" height="19.8" fill="#f6465d"/>
<rect x="1149" y="344.4" width="9" height="7.6" fill="#f6465d"/>
<rect x="1166" y="335.3" width="1" height="22.1" fill="#0ecb81"/>
<rect x="1162" y="339.0" width="9" height="13.0" fill="#0ecb81"/>
<rect x="1179" y="336.3" width="1" height="19.7" fill="#f6465d"/>
<rect x="1175" y="340.4" width="9" height="9.3" fill="#f6465d"/>
<rect x="1192" y="324.3" width="1" height="27.0" fill="#0ecb81"/>
<rect x="1188" y="328.3" width="9" height="21.7" fill="#0ecb81"/>
<rect x="1205" y="305.1" width="1" height="26.8" fill="#0ecb81"/>
<rect x="1201" y="306.9" width="9" height="21.9" fill="#0ecb81"/>
<rect x="1219" y="303.8" width="1" height="21.0" fill="#f6465d"/>
<rect x="1215" y="307.1" width="9" height="7.8" fill="#f6465d"/>
<rect x="1232" y="306.5" width="1" height="26.4" fill="#0ecb81"/>
<rect x="1228" y="307.1" width="9" height="7.8" fill="#0ecb81"/>
<rect x="1245" y="287.1" width="1" height="20.7" fill="#0ecb81"/>
<rect x="1241" y="299.8" width="9" height="8.0" fill="#0ecb81"/>
<rect x="1258" y="286.9" width="1" height="15.8" fill="#0ecb81"/>
<rect x="1254" y="293.0" width="9" height="7.9" fill="#0ecb81"/>
<rect x="1271" y="286.1" width="1" height="29.4" fill="#f6465d"/>
<rect x="1267" y="293.0" width="9" height="6.8" fill="#f6465d"/>
<rect x="1284" y="297.3" width="1" height="31.4" fill="#f6465d"/>
<rect x="1280" y="298.9" width="9" height="15.9" fill="#f6465d"/>
<rect x="1297" y="308.0" width="1" height="16.9" fill="#f6465d"/>
<rect x="1293" y="314.1" width="9" height="8.4" fill="#f6465d"/>
<rect x="1310" y="316.1" width="1" height="18.0" fill="#f6465d"/>
<rect x="1306" y="322.3" width="9" height="2.3" fill="#f6465d"/>
<rect x="1323" y="313.1" width="1" height="19.9" fill="#0ecb81"/>
<rect x="1319" y="315.0" width="9" height="9.9" fill="#0ecb81"/>
<rect x="1336" y="311.8" width="1" height="13.1" fill="#f6465d"/>
<rect x="1332" y="315.2" width="9" height="3.6" fill="#f6465d"/>
<rect x="1349" y="298.1" width="1" height="31.9" fill="#0ecb81"/>
<rect x="1345" y="300.0" width="9" height="19.8" fill="#0ecb81"/>
<rect x="1362" y="293.3" width="1" height="14.6" fill="#0ecb81"/>
<rect x="1358" y="297.1" width="9" height="3.9" fill="#0ecb81"/>
<rect x="1375" y="273.1" width="1" height="41.6" fill="#0ecb81"/>
<rect x="1371" y="293.9" width="9" height="3.7" fill="#0ecb81"/>
<rect x="1388" y="241.9" width="1" height="55.2" fill="#0ecb81"/>
<rect x="1384" y="277.4" width="9" height="17.2" fill="#0ecb81"/>
<rect x="1401" y="235.0" width="1" height="42.9" fill="#0ecb81"/>
<rect x="1397" y="235.0" width="9" height="42.9" fill="#0ecb81"/>
<rect x="1414" y="206.0" width="1" height="29.9" fill="#0ecb81"/>
<rect x="1410" y="219.8" width="9" height="16.1" fill="#0ecb81"/>
<rect x="1428" y="220.5" width="1" height="36.1" fill="#f6465d"/>
<rect x="1424" y="221.2" width="9" height="8.7" fill="#f6465d"/>
<rect x="1441" y="183.0" width="1" height="49.8" fill="#0ecb81"/>
<rect x="1437" y="202.0" width="9" height="27.9" fill="#0ecb81"/>
<rect x="1454" y="193.1" width="1" height="138.3" fill="#f6465d"/>
<rect x="1450" y="202.0" width="9" height="52.0" fill="#f6465d"/>
<rect x="1467" y="210.1" width="1" height="59.6" fill="#0ecb81"/>
<rect x="1463" y="224.8" width="9" height="29.2" fill="#0ecb81"/>
<rect x="1480" y="211.8" width="1" height="24.1" fill="#0ecb81"/>
<rect x="1476" y="219.8" width="9" height="6.0" fill="#0ecb81"/>
<rect x="1493" y="212.0" width="1" height="36.7" fill="#f6465d"/>
<rect x="1489" y="220.0" width="9" height="14.0" fill="#f6465d"/>
<rect x="1506" y="217.9" width="1" height="16.9" fill="#0ecb81"/>
<rect x="1502" y="220.1" width="9" height="14.0" fill="#0ecb81"/>
<rect x="1519" y="219.3" width="1" height="28.0" fill="#f6465d"/>
<rect x="1515" y="220.1" width="9" height="17.9" fill="#f6465d"/>
<rect x="1532" y="189.9" width="1" height="67.0" fill="#0ecb81"/>
<rect x="1528" y="198.0" width="9" height="40.0" fill="#0ecb81"/>
<rect x="1545" y="198.0" width="1" height="46.4" fill="#f6465d"/>
<rect x="1541" y="198.0" width="9" height="18.8" fill="#f6465d"/>
<rect x="1558" y="200.2" width="1" height="23.6" fill="#0ecb81"/>
<rect x="1554" y="206.1" width="9" height="10.7" fill="#0ecb81"/>
<rect x="1571" y="176.2" width="1" height="62.7" fill="#f6465d"/>
<rect x="1567" y="206.1" width="9" height="8.5" fill="#f6465d"/>
<rect x="1584" y="205.1" width="1" height="62.8" fill="#f6465d"/>
<rect x="1580" y="213.9" width="9" height="31.9" fill="#f6465d"/>
<line x1="0" y1="176.5" x2="1723" y2="176.5" stroke="#9598a1" stroke-dasharray="1 2" stroke-dashoffset="-2"/>
<line x1="0" y1="477.5" x2="1723" y2="477.5" stroke="#9598a1" stroke-dasharray="1 2" stroke-dashoffset="-2"/>
<line x1="0" y1="245.5" x2="1723" y2="245.5" stroke="#f6465d" stroke-dasharray="1 2" stroke-dashoffset="-2"/>
<polyline points="-9.0,607 4.0,604.5 17.1,601.0 30.2,614.0 43.2,612.5 56.3,613.0 69.4,614.0 82.4,612.5 95.5,612.8 108.6,620.4 121.6,623.6 134.7,630.6 147.8,625.8 160.8,617.9 173.9,598.5 186.9,601.0 200.0,623.6 213.1,603.6 226.1,605.5 239.2,605.8 252.3,603.0 265.3,571.9 278.4,565.8 291.5,563.3 304.5,555.4 317.6,548.4 330.7,542.7 343.7,570.9 356.8,567.1 369.8,562.3 382.9,557.9 396.0,571.2 409.0,578.2 422.1,585.5 435.2,596.0 448.2,595.0 461.3,595.0 474.4,594.0 487.4,596.6 500.5,614.7 513.5,632.5 526.6,611.5 539.7,630.8 552.7,640.4 565.8,641.5 578.9,639.0 591.9,636.0 605.0,634.9 618.1,621.2 631.1,622.3 644.2,644.8 657.2,648.7 670.3,665.2 683.4,664.1 696.4,658.6 709.5,657.8 722.6,654.2 735.6,653.7 748.7,656.4 761.8,653.7 774.8,652.3 787.9,650.1 801.0,658.3 814.0,664.1 827.1,649.5 840.1,664.7 853.2,662.5 866.3,649.8 879.3,646.5 892.4,669.4 905.5,669.4 918.5,686.7 931.6,729.1 944.7,708.2 957.7,696.9 970.8,679.0 983.8,662.2 996.9,657.0 1010.0,662.5 1023.0,662.5 1036.1,643.5 1049.2,644.8 1062.2,645.4 1075.3,639.3 1088.4,615.9 1101.4,641.3 1114.5,617.9 1127.6,614.5 1140.6,611.2 1153.7,607.7 1166.7,605.5 1179.8,623.9 1192.9,605.5 1205.9,586.7 1219.0,585.6 1232.1,600.0 1245.1,589.8 1258.2,578.7 1271.3,600.5 1284.3,599.1 1297.4,615.1 1310.5,628.3 1323.5,628.9 1336.6,631.9 1349.6,630.6 1362.7,614.6 1375.8,606.9 1388.8,598.6 1401.9,596.1 1415.0,581.6 1428.0,599.8 1441.1,593.7 1454.2,614.6 1467.2,602.8 1480.3,593.8 1493.3,599.8 1506.4,598.6 1519.5,605.8 1532.5,602.7 1545.6,614.9 1558.7,617.3 1571.7,617.8 1584.8,632.3" fill="none" stroke="#7e57c2" stroke-width="1.4" stroke-linejoin="round"/>
<rect x="1724" y="60" width="1" height="687" fill="#4a4e58"/>
<rect x="0" y="519" width="1815" height="1" fill="#4a4e58"/>
<text transform="translate(1737.3,123) scale(0.923,1)" font-family="Liberation Sans, sans-serif" font-size="15.9" fill="#848e9c">0.9000</text>
<text transform="translate(1737.3,188) scale(0.923,1)" font-family="Liberation Sans, sans-serif" font-size="15.9" fill="#848e9c">0.8000</text>
<text transform="translate(1737.3,319) scale(0.923,1)" font-family="Liberation Sans, sans-serif" font-size="15.9" fill="#848e9c">0.6000</text>
<text transform="translate(1737.3,384) scale(0.923,1)" font-family="Liberation Sans, sans-serif" font-size="15.9" fill="#848e9c">0.5000</text>
<text transform="translate(1737.3,449) scale(0.923,1)" font-family="Liberation Sans, sans-serif" font-size="15.9" fill="#848e9c">0.4000</text>
<text transform="translate(1737.3,515) scale(0.923,1)" font-family="Liberation Sans, sans-serif" font-size="15.9" fill="#848e9c">0.3000</text>
<text transform="translate(1737.3,540) scale(0.923,1)" font-family="Liberation Sans, sans-serif" font-size="15.9" fill="#848e9c">100.00</text>
<text transform="translate(1737.3,588) scale(0.923,1)" font-family="Liberation Sans, sans-serif" font-size="15.9" fill="#848e9c">80.00</text>
<text transform="translate(1737.3,636) scale(0.923,1)" font-family="Liberation Sans, sans-serif" font-size="15.9" fill="#848e9c">60.00</text>
<text transform="translate(1737.3,683) scale(0.923,1)" font-family="Liberation Sans, sans-serif" font-size="15.9" fill="#848e9c">40.00</text>
<text transform="translate(1737.3,731) scale(0.923,1)" font-family="Liberation Sans, sans-serif" font-size="15.9" fill="#848e9c">20.00</text>
<path d="M1724,235 H1788 a2,2 0 0 1 2,2 V254 a2,2 0 0 1 -2,2 H1724 Z" fill="#f6465d"/>
<text transform="translate(1737.3,251) scale(0.923,1)" font-family="Liberation Sans, sans-serif" font-size="15.9" fill="#ffffff" stroke="#ffffff" stroke-width="0.2">0.7036</text>
</svg>
<svg width="1815" height="747" viewBox="0 0 1815 747">
<rect x="0" y="4" width="1815" height="1" fill="#252930"/>
<rect x="0" y="59" width="1815" height="1" fill="#252930"/>
<rect x="303" y="4" width="1" height="55" fill="#252930"/>
<text x="13.3" y="31" font-family="Liberation Sans, sans-serif" font-size="24.6" fill="#eaecef" stroke="#eaecef" stroke-width="0.75">ADA/USDT</text>
<text x="147" y="27" font-family="Liberation Sans, sans-serif" font-size="14.6" fill="#848e9c">Cardano Price</text>
<rect x="147" y="28" width="94" height="1" fill="#848e9c"/>
<path d="M258,19 L266,19 L262,24.5 Z" fill="#848e9c"/>
<rect x="18" y="41" width="151" height="18" rx="2" fill="#3a3320"/>
<text x="22.5" y="56" font-family="Liberation Sans, sans-serif" font-size="14.6" fill="#f0b90b" stroke="#f0b90b" stroke-width="0.25" letter-spacing="-0.15">Layer 1 / L...</text>
<rect x="116.5" y="49.5" width="1" height="3.5" fill="#a0651a"/>
<text x="126.5" y="55.6" font-family="Liberation Sans, sans-serif" font-size="15" fill="#f0b90b">Hot</text>
<path d="M155.5,45.5 L159.5,49.5 L155.5,53.5" fill="none" stroke="#f0b90b" stroke-width="1.5"/>
<text x="329.3" y="37" font-family="Liberation Sans, sans-serif" font-size="14.6" fill="#848e9c">Time</text>
<text x="384" y="37" font-family="Liberation Sans, sans-serif" font-size="14.6" fill="#848e9c">1s</text>
<text x="419.6" y="37" font-family="Liberation Sans, sans-serif" font-size="14.6" fill="#848e9c">15m</text>
<text x="468.6" y="37" font-family="Liberation Sans, sans-serif" font-size="14.6" fill="#848e9c">1H</text>
<text x="506.6" y="37" font-family="Liberation Sans, sans-serif" font-size="14.6" fill="#848e9c">4H</text>
<text x="546.3" y="37" font-family="Liberation Sans, sans-serif" font-size="14.6" fill="#f0b90b">1D</text>
<text x="584.3" y="37" font-family="Liberation Sans, sans-serif" font-size="14.6" fill="#848e9c">1W</text>
<path d="M632.5,28.5 L642,28.5 L637.25,34.5 Z" fill="#848e9c"/>
<g fill="#848e9c"><rect x="689" y="23" width="3" height="17"/><rect x="689" y="37" width="17" height="3"/><path d="M696,35 L699,31.5 L702.5,35 Z"/></g>
<polyline points="692,32 696.4,26.4 699.2,29.2 705,23.8" fill="none" stroke="#848e9c" stroke-width="2.2"/>
<g fill="#848e9c"><rect x="735" y="27" width="3" height="14"/><rect x="732" y="31" width="9" height="6"/><rect x="746" y="23" width="3" height="18"/><rect x="743" y="27" width="9" height="10.5"/></g>
<path fill="#848e9c" fill-rule="evenodd" d="M778,27 H782.5 L784,24 H791 L792.5,27 H797 V39 H778 Z M787.5,29.4 a2.6,2.6 0 1 0 0.01,0 Z"/>
<circle cx="832.5" cy="31.4" r="9.4" fill="#848e9c"/>
<rect x="826.7" y="30.2" width="11.6" height="2.4" fill="#161a1e"/><rect x="831.3" y="25.6" width="2.4" height="11.6" fill="#161a1e"/>
<text x="1568" y="37.2" font-family="Liberation Sans, sans-serif" font-size="15" letter-spacing="0.35" fill="#848e9c">Original</text>
<text x="1646.4" y="37.2" font-family="Liberation Sans, sans-serif" font-size="15" letter-spacing="0.33" fill="#f0b90b" stroke="#f0b90b" stroke-width="0.35">Trading View</text>
<text x="1760" y="37.2" font-family="Liberation Sans, sans-serif" font-size="15" letter-spacing="0.25" fill="#848e9c">Depth</text>
<text x="10.2" y="88.4" font-family="Liberation Sans, sans-serif" font-size="18" fill="#9ea5b1" textLength="80.4" lengthAdjust="spacingAndGlyphs">ADAUSDT</text>
<text x="97.6" y="88.4" font-family="Liberation Sans, sans-serif" font-size="18" fill="#9ea5b1">·</text>
<text x="108.2" y="88.4" font-family="Liberation Sans, sans-serif" font-size="18" fill="#9ea5b1" textLength="21.4" lengthAdjust="spacingAndGlyphs">1D</text>
<text x="135.6" y="88.4" font-family="Liberation Sans, sans-serif" font-size="18" fill="#9ea5b1">·</text>
<text x="145.3" y="88.4" font-family="Liberation Sans, sans-serif" font-size="18" fill="#9ea5b1" textLength="69.4" lengthAdjust="spacing">Binance</text>
<text x="225.7" y="88.4" font-family="Liberation Sans, sans-serif" font-size="15" letter-spacing="0.3" fill="#9ea5b1">O</text>
<text x="237.5" y="88.4" font-family="Liberation Sans, sans-serif" font-size="15" letter-spacing="0.3" fill="#f6465d">0.7509</text>
<text x="293.7" y="88.4" font-family="Liberation Sans, sans-serif" font-size="15" letter-spacing="0.3" fill="#9ea5b1">H</text>
<text x="305.4" y="88.4" font-family="Liberation Sans, sans-serif" font-size="15" letter-spacing="0.3" fill="#f6465d">0.7647</text>
<text x="362.3" y="88.4" font-family="Liberation Sans, sans-serif" font-size="15" letter-spacing="0.3" fill="#9ea5b1">L</text>
<text x="370.8" y="88.4" font-family="Liberation Sans, sans-serif" font-size="15" letter-spacing="0.3" fill="#f6465d">0.6690</text>
<text x="427.2" y="88.4" font-family="Liberation Sans, sans-serif" font-size="15" letter-spacing="0.3" fill="#9ea5b1">C</text>
<text x="438.7" y="88.4" font-family="Liberation Sans, sans-serif" font-size="15" letter-spacing="0.3" fill="#f6465d">0.7036</text>
<text x="495.2" y="88.4" font-family="Liberation Sans, sans-serif" font-size="15" letter-spacing="0.3" fill="#f6465d">−0.0473</text>
<text x="556.7" y="88.4" font-family="Liberation Sans, sans-serif" font-size="15" letter-spacing="0.3" fill="#f6465d">(−6.30%)</text>
<rect x="10.5" y="99.5" width="47" height="24" rx="3.5" fill="#161a1e" stroke="#363a45"/>
<polyline points="18.3,109.2 23.5,114.2 28.7,109.2" fill="none" stroke="#d1d4dc" stroke-width="1.5"/>
<text x="35.3" y="116" font-family="Liberation Sans, sans-serif" font-size="15.5" fill="#d1d4dc" stroke="#d1d4dc" stroke-width="0.45">11</text>
<circle cx="28.2" cy="721.4" r="20.8" fill="#131722" stroke="#363a45" stroke-width="1.2"/>
<path d="M15,715.2 H26.8 V729.1 H20.9 V720 H15 Z" fill="#ffffff"/><circle cx="30.3" cy="717.6" r="2.4" fill="#ffffff"/><path d="M34.1,715.2 H41.8 L36.9,729.1 H30.3 Z" fill="#ffffff"/>
</svg>
</body></html>
